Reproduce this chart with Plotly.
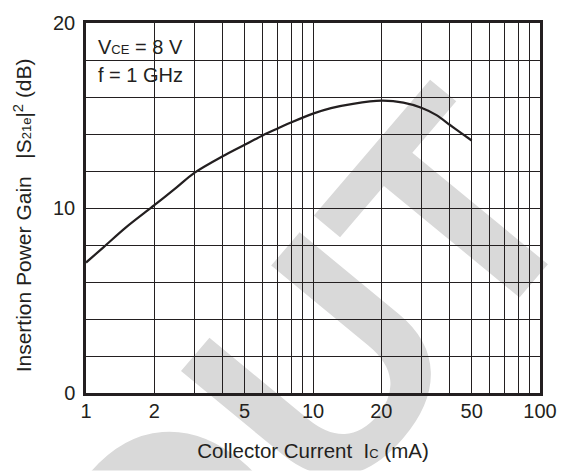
import base64
import plotly.graph_objects as go

# ---- data ----
collector_current_ma = [1, 1.2, 1.5, 2, 2.5, 3, 4, 5, 6, 7, 8, 10, 12, 15, 20, 25, 30, 35, 40, 45, 50]
insertion_gain_db = [7.05, 7.9, 8.95, 10.15, 11.1, 11.9, 12.8, 13.42, 13.92, 14.3, 14.62, 15.1,
                     15.4, 15.63, 15.8, 15.7, 15.42, 15.02, 14.5, 14.05, 13.65]

x_grid_vals = [1, 2, 3, 4, 5, 6, 7, 8, 9, 10, 20, 30, 40, 50, 60, 70, 80, 90, 100]
x_tick_labels = {1: "1", 2: "2", 5: "5", 10: "10", 20: "20", 50: "50", 100: "100"}
y_grid_vals = list(range(0, 21, 2))
y_tick_labels = {0: "0", 10: "10", 20: "20"}

W, H = 569, 472
ML, MR, MT, MB = 86, 29, 16, 79
PW, PH = W - ML - MR, H - MT - MB

FONT = "Liberation Sans, Arial, Helvetica, sans-serif"
INK = "#231f20"
FS = 20

fig = go.Figure()
fig.add_trace(go.Scatter(
    x=collector_current_ma, y=insertion_gain_db, mode="lines",
    line=dict(color=INK, width=2.2, shape="spline", smoothing=0.9),
    showlegend=False, hoverinfo="skip"))

# watermark (decorative, drawn under the grid)
wm_svg = (
    f'<svg xmlns="http://www.w3.org/2000/svg" width="{W}" height="{H}" viewBox="0 0 {W} {H}">'
    '<text x="594" y="207" transform="rotate(-50 594 207)" text-anchor="end" '
    'font-family="Liberation Sans, Arial, sans-serif" font-weight="bold" font-size="307" '
    'fill="#d9d9d9">OUT</text></svg>')
wm_src = "data:image/svg+xml;base64," + base64.b64encode(wm_svg.encode()).decode()
fig.add_layout_image(dict(
    source=wm_src, xref="paper", yref="paper",
    x=-ML / PW, y=(PH + MT) / PH, sizex=W / PW, sizey=H / PH,
    xanchor="left", yanchor="top", sizing="stretch", layer="below"))

# white condition box in the upper-left corner
fig.add_shape(type="rect", xref="x", yref="y", x0=0, x1=0.477, y0=16, y1=20,
              fillcolor="white", line=dict(color=INK, width=1.2), layer="between")

fig.add_annotation(
    xref="paper", yref="paper", x=10 / PW, y=1 - 24.5 / PH, xanchor="left", yanchor="middle",
    align="left", showarrow=False,
    text='V<span style="font-size:13px">CE</span> = 8 V',
    font=dict(family=FONT, size=FS, color=INK))
fig.add_annotation(
    xref="paper", yref="paper", x=10 / PW, y=1 - 53 / PH, xanchor="left", yanchor="middle",
    align="left", showarrow=False,
    text='f = 1 GHz',
    font=dict(family=FONT, size=FS, color=INK))

# y-axis title (placed as rotated text to match the reference offset)
fig.add_annotation(
    xref="paper", yref="paper", x=(23 - ML) / PW, y=(PH + MT - 212) / PH,
    xanchor="center", yanchor="middle", textangle=-90, showarrow=False,
    text='Insertion Power Gain \u00a0 |S<span style="font-size:13px">21e</span>|<sup>2</sup> (dB)',
    font=dict(family=FONT, size=21, color=INK))

fig.update_xaxes(
    type="log", range=[0, 2],
    tickvals=x_grid_vals, ticktext=[x_tick_labels.get(v, "") for v in x_grid_vals],
    showgrid=True, gridcolor=INK, gridwidth=1.2,
    showline=True, linecolor=INK, linewidth=2.5, mirror=True,
    ticks="", ticklabelstandoff=-2,
    tickfont=dict(family=FONT, size=FS, color=INK),
    title=dict(text='Collector Current  I<span style="font-size:13px">C</span> (mA)',
               font=dict(family=FONT, size=20.5, color=INK), standoff=23),
    zeroline=False)
fig.update_yaxes(
    range=[0, 20],
    tickvals=y_grid_vals, ticktext=[y_tick_labels.get(v, "") for v in y_grid_vals],
    showgrid=True, gridcolor=INK, gridwidth=1.2,
    showline=True, linecolor=INK, linewidth=2.5, mirror=True,
    ticks="", ticklabelstandoff=4,
    tickfont=dict(family=FONT, size=FS, color=INK),
    zeroline=False)

fig.update_layout(
    width=W, height=H, autosize=False,
    margin=dict(l=ML, r=MR, t=MT, b=MB),
    paper_bgcolor="white", plot_bgcolor="rgba(0,0,0,0)",
    font=dict(family=FONT, color=INK))

fig.write_html("out.html", config={"displayModeBar": False},
               post_script="document.body.style.margin='0px';")
